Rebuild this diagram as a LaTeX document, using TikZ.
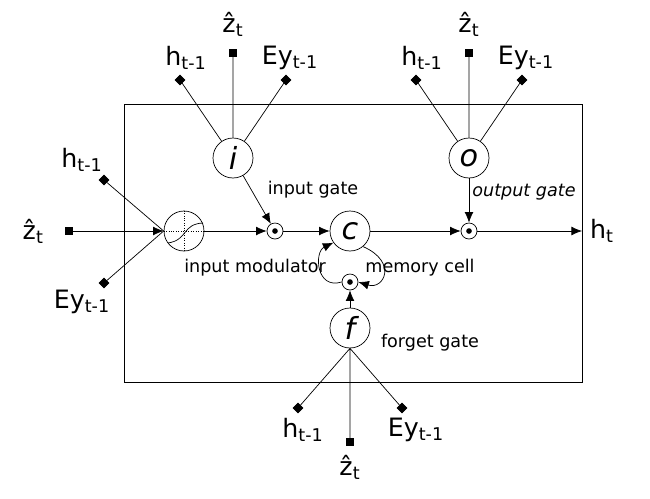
\documentclass[tikz,border=0pt]{standalone}
\usepackage{fontspec}
\setmainfont{DejaVu Sans}
\usetikzlibrary{arrows.meta,shapes.geometric}
\begin{document}
\begin{tikzpicture}[x=0.02cm,y=-0.02cm,
    gate/.style={draw,circle,minimum size=0.8cm,inner sep=0pt,font=\LARGE\itshape},
    mult/.style={draw,circle,minimum size=0.32cm,inner sep=0pt},
    dia/.style={draw,fill,diamond,inner sep=0pt,minimum size=0.2cm},
    sq/.style={draw,fill,rectangle,inner sep=0pt,minimum size=0.14cm},
    lbl/.style={font=\normalsize},
    var/.style={font=\Large},
    arr/.style={-{Latex[length=6pt,width=5pt]}}]
    \useasboundingbox (0,0) rectangle (650,498);
    % cell box
    \draw (124,104) rectangle (582,382);
    % gates
    \node[gate] (i) at (233,158) {i};
    \node[gate] (o) at (469,158) {o};
    \node[gate] (c) at (350,231) {c};
    \node[gate] (f) at (350,328) {f};
    \node[gate] (mod) at (184,231) {};
    \draw[densely dotted] (mod.north) -- (mod.south) (mod.west) -- (mod.east);
    \draw (168,243) .. controls (188,240) and (182,224) .. (203,223);
    % multipliers
    \foreach \n/\x/\y in {mi/275/231,mo/469/231,mf/350/282} {
        \node[mult] (\n) at (\x,\y) {};
        \fill (\x,\y) circle (1.6pt);
    }
    % inputs of the modulator
    \node[sq] (zm) at (69,231) {};
    \node[dia] (hm) at (104,180) {};
    \node[dia] (em) at (104,283) {};
    \node[var,left] at (50,231) {\^{z}\textsubscript{t}};
    \node[var] at (82,160) {h\textsubscript{t-1}};
    \node[var] at (82,302) {Ey\textsubscript{t-1}};
    \draw (hm) -- (mod.west) -- (em);
    \draw[arr] (zm) -- (mod.west);
    % inputs of i, o and f
    \foreach \g/\x/\s in {i/233/-1,o/469/-1,f/350/1} {
        \ifnum\s<0
            \node[dia] (h\g) at (\x-53,80) {};
            \node[sq] (z\g) at (\x,53) {};
            \node[dia] (e\g) at (\x+53,80) {};
            \draw (h\g) -- (\g) -- (z\g) (\g) -- (e\g);
            \node[var] at (\x-47,58) {h\textsubscript{t-1}};
            \node[var] at (\x,24) {\^{z}\textsubscript{t}};
            \node[var] at (\x+57,58) {Ey\textsubscript{t-1}};
        \else
            \node[dia] (h\g) at (\x-52,408) {};
            \node[sq] (z\g) at (\x,442) {};
            \node[dia] (e\g) at (\x+52,408) {};
            \draw (h\g) -- (\g.south) -- (z\g) (\g.south) -- (e\g);
            \node[var] at (\x-47,430) {h\textsubscript{t-1}};
            \node[var] at (\x,467) {\^{z}\textsubscript{t}};
            \node[var] at (\x+66,430) {Ey\textsubscript{t-1}};
        \fi
    }
    % main path
    \coordinate (out) at (582,231);
    \draw[arr] (mod) -- (mi);
    \draw[arr] (mi) -- (c);
    \draw[arr] (c) -- (mo);
    \draw[arr] (mo) -- (out);
    \node[var] at (602,231) {h\textsubscript{t}};
    \draw[arr] (i) -- (mi);
    \draw[arr] (o) -- (mo);
    \draw[arr] (f) -- (mf);
    % memory loop
    \draw[arr] (c.-50) .. controls (398,262) and (384,290) .. (mf.east);
    \draw[arr] (mf.west) .. controls (316,290) and (314,252) .. (c.215);
    % labels
    \node[lbl] at (313,190) {input gate};
    \node[lbl] at (255,268) {input modulator};
    \node[lbl] at (420,268) {memory cell};
    \node[lbl,font=\normalsize\itshape] at (524,192) {output gate};
    \node[lbl] at (430,343) {forget gate};
\end{tikzpicture}
\end{document}
